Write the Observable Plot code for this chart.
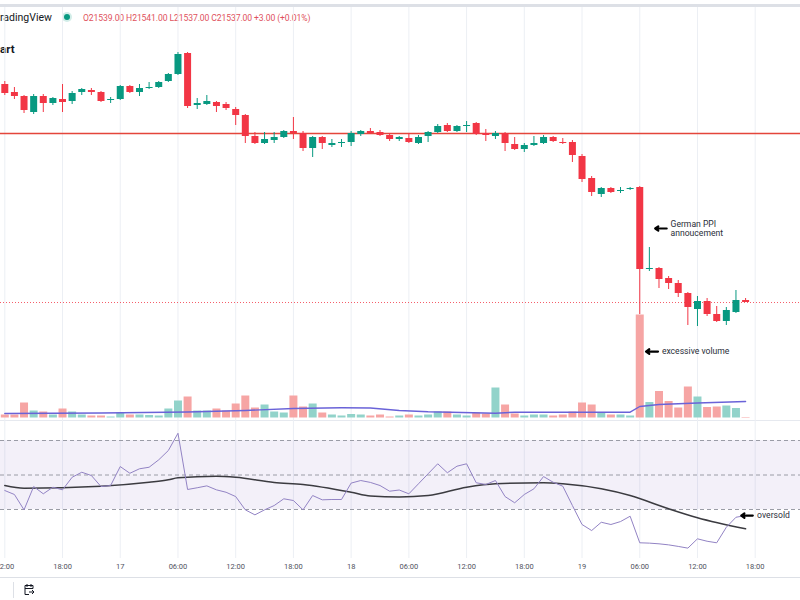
<!DOCTYPE html>
<html><head><meta charset="utf-8">
<script src="https://cdn.jsdelivr.net/npm/d3@7"></script>
<script src="https://cdn.jsdelivr.net/npm/@observablehq/plot@0.6"></script>
<style>
html,body{margin:0;padding:0;background:#fff;}
#wrap{position:relative;width:800px;height:600px;overflow:hidden;background:#fff;font-family:Roboto,"Liberation Sans",sans-serif;}
#wrap svg{position:absolute;left:0;top:0;overflow:visible;}
.abs{position:absolute;white-space:nowrap;}
</style></head><body>
<div id="wrap">
  <div class="abs" style="left:0;top:4px;width:800px;height:3px;background:#dde0e6;"></div>
  <div class="abs" style="left:0;top:11px;font-size:10.5px;color:#131722;">radingView</div>
  <div class="abs" style="left:64px;top:14px;width:6px;height:6px;border-radius:50%;background:#089981;box-shadow:0 0 0 2px rgba(8,153,129,0.18);"></div>
  <div class="abs" style="left:83px;top:12.5px;font-size:8.6px;color:#e0525d;letter-spacing:-0.1px;">O21539.00 H21541.00 L21537.00 C21537.00 +3.00 (+0.01%)</div>
  <div class="abs" style="left:0;top:42px;font-size:11.5px;font-weight:bold;color:#131722;">art</div>
  <div class="abs" style="left:0;top:420px;width:800px;height:1px;background:#e6e9ef;"></div>
  <div class="abs" style="left:0;top:577px;width:800px;height:1px;background:#dde0e6;"></div>
  <div class="abs" style="left:13px;top:582px;width:1px;height:16px;background:#dde0e6;"></div>
  <svg class="abs" style="left:22px;top:583px;" width="14" height="14" viewBox="0 0 14 14"><path d="M3 2.5h8v3M3 2.5v9h4M5 1v3M9 1v3M3 5.5h8M7 9h5m-2-2 2 2-2 2" fill="none" stroke="#131722" stroke-width="1"/></svg>
</div>
<script>
// time index: hourly candles starting 16th 12:00
const open  = [21755,21747,21743,21727,21743,21736,21740,21738,21747,21749,21747,21739,21740,21753,21747,21751,21752,21758,21765,21786,21734,21735,21737,21735,21730,21724,21703,21696,21699,21702,21708,21706,21691,21702,21694,21696,21697,21705,21708,21707,21704,21700,21701,21696,21703,21707,21714,21708,21713,21716,21706,21703,21706,21695,21690,21694,21696,21702,21697,21697,21683,21661,21645,21651,21648,21650,21652,21570,21571,21561,21556,21546,21530,21538,21525,21518,21527,21539];
const high  = [21758,21752,21744,21745,21745,21742,21755,21748,21751,21751,21748,21742,21754,21754,21755,21757,21758,21766,21787,21787,21741,21744,21738,21737,21732,21725,21707,21707,21707,21709,21722,21708,21703,21703,21700,21700,21708,21709,21711,21709,21706,21703,21706,21704,21708,21715,21716,21714,21718,21717,21710,21708,21707,21702,21696,21703,21704,21703,21701,21699,21685,21663,21652,21652,21652,21652,21653,21592,21572,21563,21559,21547,21543,21541,21533,21532,21549,21541];
const low   = [21744,21740,21726,21725,21727,21734,21727,21735,21744,21744,21737,21736,21739,21746,21743,21750,21751,21757,21764,21731,21730,21734,21727,21729,21714,21696,21695,21695,21696,21701,21700,21688,21682,21690,21692,21692,21693,21703,21705,21703,21698,21698,21696,21695,21697,21706,21707,21707,21707,21704,21698,21700,21688,21689,21687,21693,21695,21697,21695,21677,21657,21643,21642,21646,21646,21649,21525,21568,21551,21550,21542,21514,21513,21523,21517,21514,21526,21537];
const close = [21746,21743,21729,21743,21736,21741,21737,21746,21750,21747,21738,21740,21753,21747,21751,21752,21757,21765,21785,21733,21736,21738,21733,21731,21724,21703,21696,21700,21702,21708,21706,21691,21702,21696,21696,21697,21706,21708,21706,21704,21700,21702,21697,21702,21707,21713,21708,21713,21714,21705,21704,21706,21696,21690,21694,21696,21702,21698,21696,21684,21660,21647,21651,21647,21649,21651,21570,21571,21560,21556,21546,21532,21538,21525,21518,21529,21539,21537];
const volume = [300,300,1500,700,600,300,900,600,300,200,200,100,500,300,300,250,200,900,1700,2100,700,700,900,700,1400,2200,1000,1300,600,500,2200,1100,1400,500,300,200,350,300,200,300,100,200,300,200,300,600,600,300,200,500,400,3000,1300,400,200,300,300,200,300,600,1500,1300,500,300,300,200,10300,1550,2650,1650,1000,3100,2100,1050,1100,1200,950,50];
const volMaHour = [0,10,19,25,30,35,38,41,44,51,53,65,66,68,72,77];
const volMa     = [450,500,600,750,950,1020,1000,750,620,480,580,580,1150,1350,1500,1650];
const rsi = [41,38.7,29.8,43.3,39.1,42.9,41.4,48.7,51.6,49.7,43.3,43.9,54.9,51.0,53.6,54.5,58.8,64.2,74.2,41.6,42.6,43.7,41.4,40.0,37.5,29.8,26.9,29.8,32.3,36.2,35.2,29.8,38.1,35.6,35.8,35.8,45.3,46.8,45.7,43.9,40.6,41.3,39.1,44.9,50.7,56.5,51.3,55.1,56.5,45.5,44.5,46.8,37.5,33.9,38.7,42.0,49.1,45.8,43.5,32.3,21.3,17.8,22.6,21.3,23.0,26.1,10.7,10.5,10.1,9.5,8.6,7.6,13.0,11.6,10.7,19.7,25.5,26.5];
const rsiMaHour = [0,2,10,15,17,18,22,24,28,31,36,38,41,44,48,51,56,58,62,65,69,72,77];
const rsiMa     = [43.9,42.3,43.5,45.8,47.2,48.4,49.3,48.7,45.7,44.5,40.0,37.8,37.3,38.1,42.9,44.9,45.5,44.9,42.0,38.1,30.4,25.2,18.8];
const tickHours  = [0,6,12,18,24,30,36,42,48,54,60,66,72,78];
const tickLabels = ["12:00","18:00","17","06:00","12:00","18:00","18","06:00","12:00","18:00","19","06:00","12:00","18:00"];
const levelPrice = 21706;
const lastPrice = 21537;
const rsiLevels = [70,50,30];

const UP = "#089981", DOWN = "#f23645", UPV = "#92d3ca", DOWNV = "#f6a5a4";
const candles = open.map((o,i)=>({h:i,o,hi:high[i],lo:low[i],c:close[i],v:volume[i],up:close[i]>=o}));
const volMaData = volMaHour.map((h,i)=>({h,v:volMa[i]}));
const rsiData = rsi.map((v,i)=>({h:i,v}));
const rsiMaData = rsiMaHour.map((h,i)=>({h,v:rsiMa[i]}));
const labelOf = new Map(tickHours.map((h,i)=>[h,tickLabels[i]]));
const X = {domain:[0,78], range:[4.3,754.7]};
const XN = {...X, axis:null};
const wrap = document.getElementById("wrap");
const font = "Roboto, 'Liberation Sans', sans-serif";

// grid + time axis
wrap.appendChild(Plot.plot({
  width:800, height:578, marginTop:7, marginBottom:20, marginLeft:0, marginRight:0,
  style:{background:"transparent", fontFamily:font},
  x:X,
  marks:[
    Plot.gridX(tickHours,{stroke:"#eceff4", strokeOpacity:1}),
    Plot.axisX(tickHours,{tickSize:0, tickPadding:5, tickFormat:d=>labelOf.get(d), fontSize:7.5, fill:"#50535e", label:null})
  ]
}));

// volume overlay
wrap.appendChild(Plot.plot({
  width:800, height:600, margin:0,
  style:{background:"transparent"},
  x:XN, y:{domain:[0,10300], range:[417.5,314.5], axis:null},
  marks:[
    Plot.ruleX(candles,{x:"h", y1:0, y2:"v", stroke:d=>d.up?UPV:DOWNV, strokeWidth:8}),
    Plot.line(volMaData,{x:"h", y:"v", stroke:"#6a63d8", strokeWidth:1.4}),
    Plot.arrow([candles[66]],{x1:d=>d.h+1.9, x2:d=>d.h+0.65, y:d=>d.v*0.645, stroke:"#000", strokeWidth:2.2, headLength:5, headAngle:70}),
    Plot.text([candles[66]],{x:d=>d.h+2.3, y:d=>d.v*0.645, text:()=>"excessive volume", textAnchor:"start", fontSize:8.6, fill:"#2a2e39", fontFamily:font})
  ]
}));

// RSI pane
wrap.appendChild(Plot.plot({
  width:800, height:600, margin:0,
  style:{background:"transparent"},
  x:XN, y:{domain:[30,70], range:[509,440], axis:null},
  marks:[
    Plot.rect([rsiLevels],{y1:d=>d[2], y2:d=>d[0], fill:"#7e57c2", fillOpacity:0.09}),
    Plot.ruleY(rsiLevels,{stroke:"#9a9ca6", strokeDasharray:"4,3", strokeWidth:1}),
    Plot.line(rsiMaData,{x:"h", y:"v", stroke:"#3b3b40", strokeWidth:1.5, curve:"monotone-x"}),
    Plot.line(rsiData,{x:"h", y:"v", stroke:"#9283c4", strokeWidth:1}),
    Plot.arrow([rsiData[77]],{x1:d=>d.h+0.75, x2:d=>d.h-0.45, y:"v", stroke:"#000", strokeWidth:2.2, headLength:5, headAngle:70}),
    Plot.text([rsiData[77]],{x:d=>d.h+1.2, y:"v", text:()=>"oversold", textAnchor:"start", fontSize:8.6, fill:"#2a2e39", fontFamily:font})
  ]
}));

// price candles
wrap.appendChild(Plot.plot({
  width:800, height:600, margin:0,
  style:{background:"transparent"},
  x:XN, y:{domain:[21239,21839], range:[600,0], axis:null},
  marks:[
    Plot.ruleY([levelPrice],{stroke:"#e4463b", strokeWidth:1.5}),
    Plot.ruleY([lastPrice],{stroke:"#f23645", strokeDasharray:"1,2", strokeWidth:1, strokeOpacity:0.8}),
    Plot.ruleX(candles,{x:"h", y1:"lo", y2:"hi", stroke:d=>d.up?UP:DOWN, strokeWidth:1}),
    Plot.ruleX(candles,{x:"h", y1:"o", y2:"c", stroke:d=>d.up?UP:DOWN, strokeWidth:7}),
    Plot.arrow([candles[66]],{x1:d=>d.h+2.8, x2:d=>d.h+1.6, y:d=>(d.o+d.c)/2, stroke:"#000", strokeWidth:2.2, headLength:5, headAngle:70}),
    Plot.text([candles[66]],{x:d=>d.h+3.2, y:d=>(d.o+d.c)/2, text:()=>"German PPI\nannoucement", textAnchor:"start", lineHeight:1.1, fontSize:8.6, fill:"#2a2e39", fontFamily:font})
  ]
}));
</script>
</body></html>
